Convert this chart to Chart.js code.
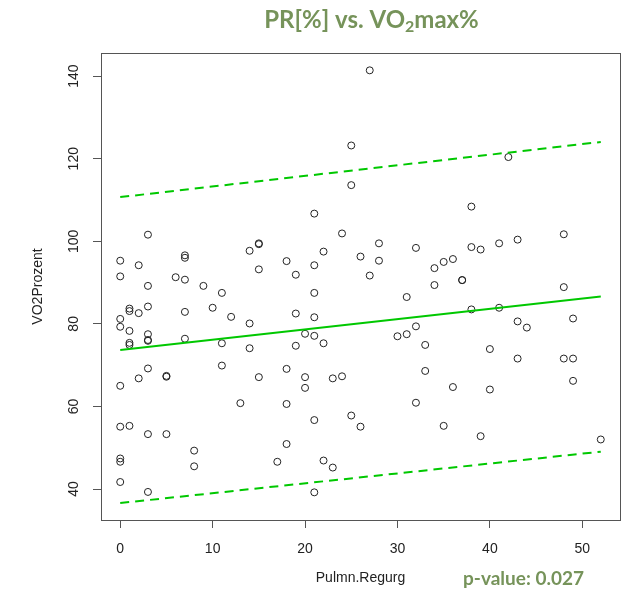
<!DOCTYPE html>
<html>
<head>
<meta charset="utf-8">
<script src="https://cdn.jsdelivr.net/npm/chart.js@4"></script>
<style>
  body { margin: 0; background: #fff; }
  #grafico { display: block; }
</style>
</head>
<body>
<canvas id="grafico" width="632" height="595"></canvas>
<script>
// valores (x = Pulmn.Regurg, y = VO2Prozent)
const pulmnRegurg = [
  0, 0, 0, 0, 0, 0, 0, 0, 0,
  1, 1, 1, 1, 1, 1,
  2, 2, 2,
  3, 3, 3, 3, 3, 3, 3, 3, 3,
  5, 5, 5,
  6,
  7, 7, 7, 7, 7,
  8, 8,
  9, 10,
  11, 11, 11,
  12, 13,
  14, 14, 14,
  15, 15, 15, 15,
  17,
  18, 18, 18, 18,
  19, 19, 19,
  20, 20, 20,
  21, 21, 21, 21, 21, 21, 21,
  22, 22, 22,
  23, 23,
  24, 24,
  25, 25, 25,
  26, 26,
  27, 27,
  28, 28,
  30,
  31, 31,
  32, 32, 32,
  33, 33,
  34, 34,
  35, 35,
  36, 36,
  37, 37,
  38, 38, 38,
  39, 39,
  40, 40,
  41, 41,
  42,
  43, 43, 43,
  44,
  48, 48, 48,
  49, 49, 49,
  52
];
const vo2Prozent = [
  95.3, 91.5, 81.2, 79.3, 65.0, 55.1, 47.4, 46.6, 41.7,
  83.7, 83.1, 78.3, 75.4, 74.9, 55.3,
  94.2, 82.6, 66.8,
  101.6, 89.2, 84.2, 77.5, 76.1, 75.9, 69.2, 53.3, 39.3,
  67.4, 67.2, 53.3,
  91.3,
  96.6, 96.0, 90.7, 82.9, 76.4,
  49.3, 45.5,
  89.2, 83.9,
  87.5, 75.3, 69.9,
  81.7, 60.8,
  97.7, 80.1, 74.1,
  99.5, 99.3, 93.2, 67.1,
  46.6,
  95.2, 69.1, 60.6, 50.9,
  91.9, 82.5, 74.7,
  77.6, 67.1, 64.5,
  106.7, 94.2, 87.5, 81.6, 77.1, 56.7, 39.2,
  97.5, 75.3, 46.9,
  66.8, 45.2,
  101.9, 67.3,
  123.2, 113.6, 57.8,
  96.3, 55.1,
  141.4, 91.7,
  99.5, 95.3,
  77.0,
  86.5, 77.5,
  98.4, 79.4, 60.9,
  74.9, 68.6,
  93.5, 89.4,
  95.0, 55.3,
  95.7, 64.7,
  90.6, 90.6,
  108.4, 98.6, 83.5,
  98.0, 52.8,
  73.9, 64.1,
  99.5, 83.9,
  120.4,
  100.4, 80.6, 71.6,
  79.1,
  101.7, 88.9, 71.6,
  81.3, 71.6, 66.2,
  52.0
];

// reta de regressao e limites de predicao (pontas)
const linhaX = [0, 52];
const ajuste = [73.7, 86.6];
const limiteSup = [110.7, 124.05];
const limiteInf = [36.6, 49.05];

const ticksX = [0, 10, 20, 30, 40, 50];
const ticksY = [40, 60, 80, 100, 120, 140];

const verde = "#00c800";
const fonteEixo = "'Liberation Sans', Arial, sans-serif";
const fonteTitulo = "Lato, 'Open Sans', sans-serif";

function juntar(xs, ys) {
  return xs.map(function (x, i) {
    return { x: x, y: ys[i] };
  });
}

// caixa, labels verticais do eixo y, titulo e p-value
const moldura = {
  id: "moldura",
  afterDraw: function (chart) {
    const ctx = chart.ctx;
    const area = chart.chartArea;
    const escalaY = chart.scales.y;

    ctx.save();
    ctx.strokeStyle = "#555";
    ctx.lineWidth = 1;
    ctx.strokeRect(Math.round(area.left) + 0.5, Math.round(area.top) + 0.5,
      Math.round(area.right - area.left), Math.round(area.bottom - area.top));

    ctx.fillStyle = "#222";
    ctx.font = "14px " + fonteEixo;
    ctx.textAlign = "center";
    ctx.textBaseline = "alphabetic";
    ticksY.forEach(function (v) {
      ctx.save();
      ctx.translate(78, escalaY.getPixelForValue(v));
      ctx.rotate(-Math.PI / 2);
      ctx.fillText(String(v), 0, 0);
      ctx.restore();
    });

    // titulo com o 2 subscrito
    ctx.fillStyle = "#76935a";
    ctx.textAlign = "left";
    const parte1 = "PR[%] vs. VO";
    const parte2 = "2";
    const parte3 = "max%";
    ctx.font = "bold 24px " + fonteTitulo;
    const w1 = ctx.measureText(parte1).width;
    const w3 = ctx.measureText(parte3).width;
    ctx.font = "bold 16px " + fonteTitulo;
    const w2 = ctx.measureText(parte2).width;
    let x = 371.5 - (w1 + w2 + w3) / 2;
    ctx.font = "bold 24px " + fonteTitulo;
    ctx.fillText(parte1, x, 28);
    x += w1;
    ctx.font = "bold 16px " + fonteTitulo;
    ctx.fillText(parte2, x, 32);
    x += w2;
    ctx.font = "bold 24px " + fonteTitulo;
    ctx.fillText(parte3, x, 28);

    ctx.font = "bold 19px " + fonteTitulo;
    ctx.fillText("p-value: 0.027", 463, 585);
    ctx.restore();
  }
};

const grafico = new Chart(document.getElementById("grafico"), {
  type: "scatter",
  data: {
    datasets: [
      {
        label: "Ajuste",
        data: juntar(linhaX, ajuste),
        showLine: true,
        borderColor: verde,
        borderWidth: 2,
        pointRadius: 0,
      },
      {
        label: "Limite superior",
        data: juntar(linhaX, limiteSup),
        showLine: true,
        borderColor: verde,
        borderWidth: 2,
        borderDash: [9, 6],
        pointRadius: 0,
      },
      {
        label: "Limite inferior",
        data: juntar(linhaX, limiteInf),
        showLine: true,
        borderColor: verde,
        borderWidth: 2,
        borderDash: [9, 6],
        pointRadius: 0,
      },
      {
        label: "VO2Prozent",
        data: juntar(pulmnRegurg, vo2Prozent),
        showLine: false,
        pointStyle: "circle",
        pointRadius: 3.5,
        borderWidth: 1,
        borderColor: "#222",
        backgroundColor: "rgba(0,0,0,0)",
      },
    ],
  },
  options: {
    responsive: false,
    animation: false,
    devicePixelRatio: 1,
    events: [],
    layout: { padding: { left: 0, top: 53, right: 12, bottom: 0 } },
    plugins: {
      legend: { display: false },
      tooltip: { enabled: false },
    },
    scales: {
      x: {
        type: "linear",
        min: -2.08,
        max: 54.08,
        afterBuildTicks: function (escala) {
          escala.ticks = ticksX.map(function (v) { return { value: v }; });
        },
        afterFit: function (escala) {
          escala.height = 75;
        },
        border: { display: false },
        grid: { drawOnChartArea: false, tickLength: 8, color: "#555" },
        ticks: {
          color: "#222",
          font: { family: fonteEixo, size: 14 },
          padding: 13,
          maxRotation: 0,
          autoSkip: false,
        },
        title: {
          display: true,
          text: "Pulmn.Regurg",
          color: "#222",
          font: { family: fonteEixo, size: 14 },
          padding: { top: 0, bottom: 8 },
        },
      },
      y: {
        type: "linear",
        min: 32.5,
        max: 145.6,
        afterBuildTicks: function (escala) {
          escala.ticks = ticksY.map(function (v) { return { value: v }; });
        },
        afterFit: function (escala) {
          escala.width = 101;
        },
        border: { display: false },
        grid: { drawOnChartArea: false, tickLength: 8, color: "#555" },
        ticks: { display: false },
        title: {
          display: true,
          text: "VO2Prozent",
          color: "#222",
          font: { family: fonteEixo, size: 14 },
          padding: { top: 30, bottom: 0 },
        },
      },
    },
  },
  plugins: [moldura],
});
</script>
</body>
</html>
